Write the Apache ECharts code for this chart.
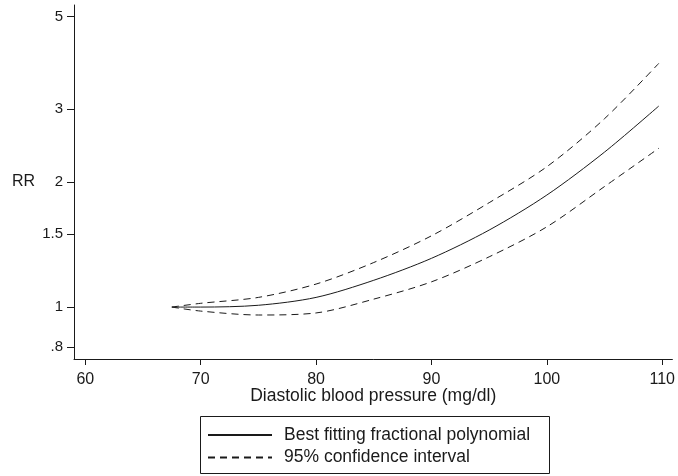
<!DOCTYPE html>
<html>
<head>
<meta charset="utf-8">
<style>
  html, body { margin: 0; padding: 0; background: #fff; }
  #chart { width: 678px; height: 476px; }
</style>
<script src="https://cdn.jsdelivr.net/npm/echarts@6/dist/echarts.min.js"></script>
</head>
<body>
<div id="chart"></div>
<script>
// Diastolic blood pressure (mg/dl) at which the curves are evaluated
const dbp = [67.5, 70, 75, 80, 85, 90, 95, 100, 105, 109.7];
// Relative risk: fitted fractional polynomial and its 95% confidence band
const rrFit   = [1.0, 1.0, 1.01, 1.055, 1.16, 1.31, 1.532, 1.86, 2.36, 3.045];
const rrUpper = [1.0, 1.021, 1.055, 1.136, 1.28, 1.484, 1.783, 2.176, 2.84, 3.858];
const rrLower = [1.0, 0.978, 0.957, 0.968, 1.045, 1.15, 1.321, 1.56, 1.95, 2.41];
// Axis tick values
const xTicks = [60, 70, 80, 90, 100, 110];
const yTicks = [0.8, 1, 1.5, 2, 3, 5];

const fitName = 'Best fitting fractional polynomial';
const ciName = '95% confidence interval';

const FONT = 'Liberation Sans, Arial, sans-serif';
const INK = '#1a1a1a';

const pairs = ys => dbp.map((x, i) => [x, ys[i]]);

const chart = echarts.init(document.getElementById('chart'), null, { renderer: 'canvas' });

const lineSeries = (name, ys, dash) => ({
  name,
  type: 'line',
  data: pairs(ys),
  smooth: 0.3,
  symbol: 'none',
  lineStyle: { color: INK, width: 1, type: dash },
  itemStyle: { color: INK }
});

chart.setOption({
  backgroundColor: '#ffffff',
  animation: false,
  grid: { left: 74, right: 5, top: 5, bottom: 117, containLabel: false },
  xAxis: {
    type: 'value',
    min: 59.02,
    max: 110.88,
    name: 'Diastolic blood pressure (mg/dl)',
    nameLocation: 'middle',
    nameMoveOverlap: false,
    nameGap: 28,
    nameTextStyle: { fontFamily: FONT, fontSize: 17.5, color: INK },
    axisLine: { show: true, lineStyle: { color: INK, width: 1 } },
    axisTick: { show: true, length: 6, customValues: xTicks, lineStyle: { color: INK } },
    axisLabel: { customValues: xTicks, margin: 13, fontFamily: FONT, fontSize: 16, color: INK },
    splitLine: { show: false }
  },
  yAxis: {
    type: 'log',
    logBase: 10,
    min: 0.75,
    max: 5.33,
    name: 'RR',
    nameLocation: 'middle',
    nameMoveOverlap: false,
    nameRotate: 0,
    nameGap: 39,
    nameTextStyle: { fontFamily: FONT, fontSize: 16, color: INK },
    axisLine: { show: true, lineStyle: { color: INK, width: 1 } },
    axisTick: { show: true, length: 7, customValues: yTicks, lineStyle: { color: INK } },
    axisLabel: {
      customValues: yTicks,
      margin: 11,
      fontFamily: FONT,
      fontSize: 15,
      color: INK,
      formatter: v => (v < 1 ? String(+v.toFixed(2)).replace(/^0/, '') : String(+v.toFixed(2)))
    },
    splitLine: { show: false },
    minorTick: { show: false }
  },
  legend: {
    orient: 'vertical',
    left: 207,
    top: 426,
    padding: 0,
    itemWidth: 64,
    itemHeight: 14,
    itemGap: 4.4,
    selectedMode: false,
    itemStyle: { opacity: 0 },
    textStyle: { fontFamily: FONT, fontSize: 17.5, color: INK, padding: [0, 0, 0, 7] },
    data: [fitName, ciName]
  },
  graphic: [{
    type: 'rect',
    shape: { x: 200.5, y: 416.5, width: 349, height: 57 },
    style: { fill: 'none', stroke: INK, lineWidth: 1 },
    silent: true
  }],
  series: [
    lineSeries(fitName, rrFit, 'solid'),
    lineSeries(ciName, rrUpper, [7, 5]),
    lineSeries(ciName, rrLower, [7, 5])
  ]
});
</script>
</body>
</html>
